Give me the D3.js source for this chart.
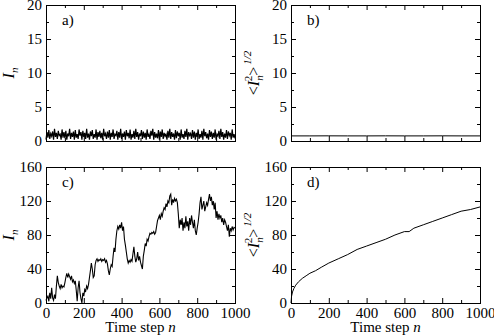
<!DOCTYPE html>
<html>
<head>
<meta charset="utf-8">
<script src="https://cdn.jsdelivr.net/npm/d3@7"></script>
<style>
  html, body { margin: 0; padding: 0; background: #fff; }
  svg { display: block; }
  .tick text { font-size: 15px; fill: #000; }
  .tick line { stroke: #000; }
</style>
</head>
<body>
<div id="chart"></div>
<script>
// x positions are time steps; panels a and c are sampled every 5 steps
const stepSize = 5;

// a) I_n, bounded oscillation
const seriesA = [
  0.2,1.3,0.5,1.6,0.3,1.1,0.7,1.4,0.2,1.8,0.6,1.2,0.3,1.5,0.8,1.0,0.2,1.7,0.5,1.3,
  0.4,1.5,0.2,1.1,0.7,1.8,0.3,1.2,0.6,1.4,0.2,1.6,0.5,1.0,0.3,1.7,0.8,1.3,0.2,1.5,
  0.6,1.2,0.3,1.8,0.5,1.1,0.2,1.4,0.7,1.6,0.3,1.0,0.5,1.7,0.2,1.3,0.6,1.5,0.4,1.2,
  0.2,1.8,0.7,1.1,0.3,1.4,0.5,1.6,0.2,1.2,0.6,1.7,0.3,1.0,0.8,1.5,0.2,1.3,0.5,1.8,
  0.3,1.1,0.6,1.4,0.2,1.6,0.7,1.2,0.4,1.7,0.2,1.0,0.5,1.5,0.3,1.8,0.6,1.3,0.2,1.1,
  0.7,1.6,0.3,1.4,0.5,1.2,0.2,1.7,0.6,1.0,0.3,1.5,0.8,1.8,0.2,1.3,0.5,1.1,0.4,1.6,
  0.2,1.4,0.6,1.7,0.3,1.2,0.7,1.0,0.2,1.5,0.5,1.8,0.3,1.3,0.6,1.1,0.2,1.6,0.4,1.4,
  0.7,1.2,0.2,1.7,0.5,1.0,0.3,1.5,0.6,1.8,0.2,1.3,0.8,1.1,0.3,1.6,0.5,1.4,0.2,1.2,
  0.6,1.7,0.3,1.0,0.5,1.5,0.2,1.8,0.7,1.3,0.4,1.1,0.2,1.6,0.6,1.4,0.3,1.2,0.5,1.7,
  0.2,1.0,0.7,1.5,0.3,1.8,0.6,1.3,0.2,1.1,0.5,1.6,0.3,1.4,0.8,1.2,0.2,1.7,0.5,1.0,
  0.4
];

// b) <I_n^2>^(1/2), flat
const stepsB = [0, 100, 200, 300, 400, 500, 600, 700, 800, 900, 1000];
const seriesB = [0.75, 0.75, 0.76, 0.75, 0.75, 0.76, 0.75, 0.75, 0.76, 0.75, 0.75];

// c) I_n, diffusive walk
const seriesC = [
  3,6,8,2,12,5,18,6,3,10,5,20,32,24,20,17,22,18,20,19,
  24,30,35,30,34,31,28,32,25,27,23,26,15,2,18,26,12,5,0,12,
  8,16,14,20,17,22,30,38,47,40,30,32,45,50,52,49,51,50,52,49,
  51,50,52,48,50,46,38,33,40,45,43,55,65,60,75,85,90,87,92,88,
  95,85,90,75,68,60,52,47,50,48,51,49,58,66,55,48,52,60,50,55,
  48,44,40,55,62,70,67,75,73,78,82,81,83,82,84,81,83,90,97,100,
  103,98,105,102,108,112,110,117,113,120,118,126,128,115,122,118,123,120,122,118,
  105,88,98,92,100,85,95,88,102,90,96,85,100,92,103,95,88,98,85,80,
  88,95,105,118,125,110,115,120,108,113,118,115,122,128,120,125,115,120,110,118,
  100,108,98,105,100,103,95,100,92,98,95,90,85,92,78,88,85,90,86,89,
  88
];

// d) <I_n^2>^(1/2), growing
const stepsD = [0,3,8,15,25,40,60,80,100,130,160,200,250,300,350,400,450,500,550,600,625,650,700,750,800,850,900,950,1000];
const seriesD = [0,8,13,17,21,25,29,32,35,38,42,47,52,57,63,67,71,75,80,84,84,88,92,96,100,104,108,110,113];

const xMajor = [0, 200, 400, 600, 800, 1000];
const xMinor = [100, 300, 500, 700, 900];
const yTopMajor = [0, 5, 10, 15, 20];
const yTopMinor = [2.5, 7.5, 12.5, 17.5];
const yBotMajor = [0, 40, 80, 120, 160];
const yBotMinor = [20, 60, 100, 140];

const serif = "'Liberation Serif', 'Times New Roman', serif";
const width = 494, height = 335;
const cols = [[46, 235], [291, 480]];
const rows = [[5, 141], [167, 303]];

const svg = d3.select('#chart').append('svg')
    .attr('width', width)
    .attr('height', height)
    .style('font-family', serif);

// drop d3's default axis font so the serif style applies
function plainAxis(s) {
    s.attr('font-family', null).attr('font-size', null);
    s.selectAll('text').style('font-family', serif);
    s.select('.domain').remove();
}

function drawPanel(col, row, opts) {
    const x = d3.scaleLinear().domain([0, 1000]).range(cols[col]);
    const y = d3.scaleLinear().domain(opts.yDomain).range([rows[row][1], rows[row][0]]);
    const g = svg.append('g');

    const axes = [
        { ax: d3.axisBottom(x), t: `translate(0,${rows[row][1]})`, major: xMajor, minor: xMinor, labels: opts.xLabels },
        { ax: d3.axisTop(x), t: `translate(0,${rows[row][0]})`, major: xMajor, minor: xMinor, labels: false },
        { ax: d3.axisLeft(y), t: `translate(${cols[col][0]},0)`, major: opts.yMajor, minor: opts.yMinor, labels: true },
        { ax: d3.axisRight(y), t: `translate(${cols[col][1]},0)`, major: opts.yMajor, minor: opts.yMinor, labels: false }
    ];
    axes.forEach(a => {
        g.append('g').attr('transform', a.t)
            .call(a.ax.tickValues(a.minor).tickSize(-3).tickFormat(''))
            .call(plainAxis);
        g.append('g').attr('transform', a.t)
            .call(a.ax.tickValues(a.major).tickSize(-5).tickPadding(a.labels ? 4 : 0)
                .tickFormat(a.labels ? d3.format('d') : ''))
            .call(plainAxis);
    });

    const line = d3.line().x(d => x(d[0])).y(d => y(d[1]));
    g.append('path')
        .datum(opts.points)
        .attr('fill', 'none')
        .attr('stroke', '#000')
        .attr('stroke-width', opts.strokeWidth || 1)
        .attr('d', line);

    g.append('rect')
        .attr('x', cols[col][0] + 0.5)
        .attr('y', rows[row][0] + 0.5)
        .attr('width', cols[col][1] - cols[col][0])
        .attr('height', rows[row][1] - rows[row][0])
        .attr('fill', 'none')
        .attr('stroke', '#000');

    g.append('text')
        .attr('x', cols[col][0] + 16)
        .attr('y', rows[row][0] + 20)
        .attr('font-size', 15)
        .text(opts.tag);

    // y title
    const cx = cols[col][0] - 32;
    const cy = (rows[row][0] + rows[row][1]) / 2;
    const title = g.append('text')
        .attr('transform', `translate(${cx},${cy}) rotate(-90)`)
        .attr('text-anchor', 'middle')
        .attr('font-size', 16);
    if (opts.rms) {
        title.append('tspan').text('<');
        title.append('tspan').attr('font-style', 'italic').text('I');
        title.append('tspan').attr('font-style', 'italic').attr('font-size', 11).attr('dy', 4).text('n');
        title.append('tspan').attr('font-size', 11).attr('dx', -6).attr('dy', -11).text('2');
        title.append('tspan').attr('dy', 7).text('>');
        title.append('tspan').attr('font-style', 'italic').attr('font-size', 11).attr('dx', 2).attr('dy', -8).text('1/2');
    } else {
        title.append('tspan').attr('font-style', 'italic').text('I');
        title.append('tspan').attr('font-style', 'italic').attr('font-size', 11).attr('dy', 4).text('n');
    }

    if (opts.xLabels) {
        const xt = g.append('text')
            .attr('x', (cols[col][0] + cols[col][1]) / 2)
            .attr('y', rows[row][1] + 29)
            .attr('text-anchor', 'middle')
            .attr('font-size', 15);
        xt.append('tspan').text('Time step ');
        xt.append('tspan').attr('font-style', 'italic').text('n');
    }
}

drawPanel(0, 0, {
    yDomain: [0, 20], yMajor: yTopMajor, yMinor: yTopMinor, xLabels: false, tag: 'a)',
    points: seriesA.map((v, i) => [i * stepSize, v]), strokeWidth: 1.2
});
drawPanel(1, 0, {
    yDomain: [0, 20], yMajor: yTopMajor, yMinor: yTopMinor, xLabels: false, tag: 'b)', rms: true,
    points: seriesB.map((v, i) => [stepsB[i], v])
});
drawPanel(0, 1, {
    yDomain: [0, 160], yMajor: yBotMajor, yMinor: yBotMinor, xLabels: true, tag: 'c)',
    points: seriesC.map((v, i) => [i * stepSize, v]), strokeWidth: 1.1
});
drawPanel(1, 1, {
    yDomain: [0, 160], yMajor: yBotMajor, yMinor: yBotMinor, xLabels: true, tag: 'd)', rms: true,
    points: seriesD.map((v, i) => [stepsD[i], v])
});
</script>
</body>
</html>
